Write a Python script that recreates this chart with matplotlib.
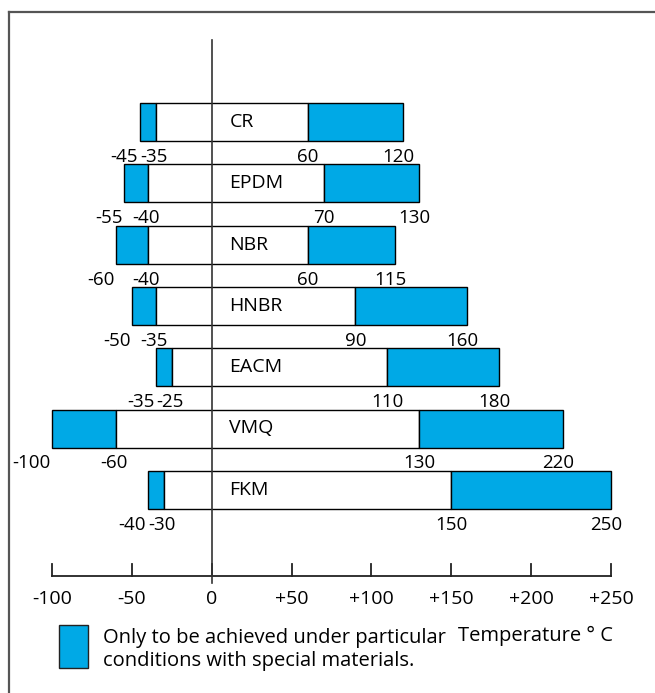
import matplotlib
matplotlib.use("Agg")
import matplotlib.pyplot as plt
from matplotlib.patches import Rectangle
from matplotlib.lines import Line2D

W, H = 655, 693

materials = ["CR", "EPDM", "NBR", "HNBR", "EACM", "VMQ", "FKM"]
ext_low = [-45, -55, -60, -50, -35, -100, -40]
low = [-35, -40, -40, -35, -25, -60, -30]
high = [60, 70, 60, 90, 110, 130, 150]
ext_high = [120, 130, 115, 160, 180, 220, 250]

ticks = [-100, -50, 0, 50, 100, 150, 200, 250]
tick_labels = ["-100", "-50", "0", "+50", "+100", "+150", "+200", "+250"]

blue = "#00A9E6"
plt.rcParams['font.family'] = ['Open Sans', 'DejaVu Sans']

fig = plt.figure(figsize=(W / 100, H / 100), dpi=100)
ax = fig.add_axes([0, 0, 1, 1])
ax.axis('off')

# x: temperature, -100 at 52px and 250 at 611px ; y: pixel rows
ppu = (611 - 52) / 350
ax.set_xlim(-100 - 52 / ppu, 250 + (W - 611) / ppu)
ax.set_ylim(H, 0)

ys = [122 + 61.3 * i for i in range(len(materials))]
bh = 38

for i, m in enumerate(materials):
    y = ys[i]
    ax.barh(y, low[i] - ext_low[i], left=ext_low[i], height=bh,
            color=blue, edgecolor='black', linewidth=1, zorder=2)
    ax.barh(y, high[i] - low[i], left=low[i], height=bh,
            color='white', edgecolor='black', linewidth=1, zorder=2)
    ax.barh(y, ext_high[i] - high[i], left=high[i], height=bh,
            color=blue, edgecolor='black', linewidth=1, zorder=2)
    ax.text(11, y, m, ha='left', va='center', fontsize=14, zorder=4)

    ly = y + 35
    ax.text(ext_low[i] - 1, ly, str(ext_low[i]), ha='right', va='center', fontsize=13.5)
    ax.text(low[i] - 1, ly, str(low[i]), ha='center', va='center', fontsize=13.5)
    ax.text(high[i], ly, str(high[i]), ha='center', va='center', fontsize=13.5)
    ax.text(ext_high[i] - 3, ly, str(ext_high[i]), ha='center', va='center', fontsize=13.5)

# zero line
ax.plot([0, 0], [40, 583], color='#333333', linewidth=1.2, zorder=3)

# temperature axis
ax.plot([ticks[0], ticks[-1]], [576, 576], color='#222222', linewidth=1.3)
for t, lab in zip(ticks, tick_labels):
    ax.plot([t, t], [564, 576], color='#222222', linewidth=1.3)
    ax.text(t, 599, lab, ha='center', va='center', fontsize=14)

# frame (top and left edges only visible)
fig.add_artist(Line2D([9 / W, 1], [1 - 12 / H, 1 - 12 / H], transform=fig.transFigure,
                      color='#555555', linewidth=1.6))
fig.add_artist(Line2D([9 / W, 9 / W], [0, 1 - 12 / H], transform=fig.transFigure,
                      color='#555555', linewidth=1.6))

# legend
fig.add_artist(Rectangle((59 / W, 1 - 668 / H), 29 / W, 43 / H, transform=fig.transFigure,
                         facecolor=blue, edgecolor='#222222', linewidth=1))
fig.text(103 / W, 1 - 638 / H, "Only to be achieved under particular", ha='left', va='center', fontsize=14.5)
fig.text(103 / W, 1 - 661 / H, "conditions with special materials.", ha='left', va='center', fontsize=14.5)
fig.text(458 / W, 1 - 636 / H, "Temperature \u00b0 C", ha='left', va='center', fontsize=14.5)

fig.savefig("out.png", dpi=100)
